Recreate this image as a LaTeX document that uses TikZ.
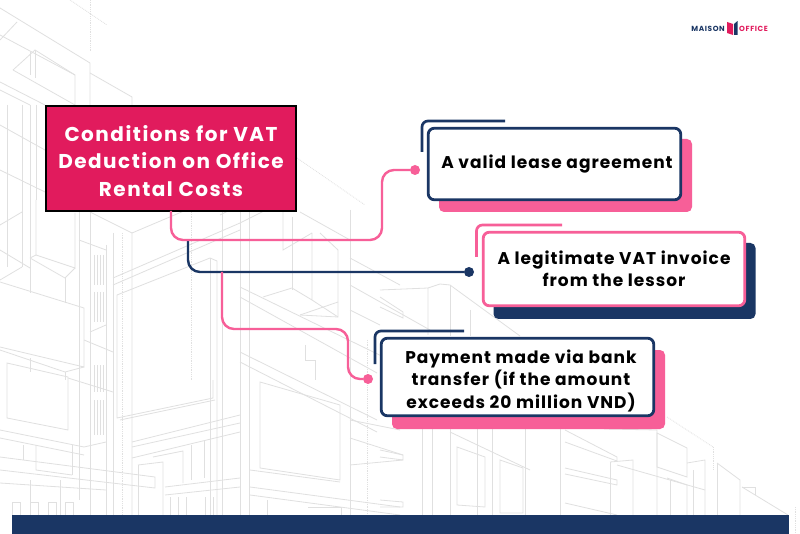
\documentclass[tikz,border=0pt]{standalone}
\usepackage{fontspec}
\setmainfont{Poppins}
\newfontfamily\titlefont[LetterSpace=7.5]{Poppins}
\newfontfamily\cardfont[LetterSpace=5.9]{Poppins}
\newfontfamily\logofont[LetterSpace=8]{Poppins}
\definecolor{navy}{HTML}{1A3664}
\definecolor{rose}{HTML}{F75F98}
\definecolor{crimson}{HTML}{E11B5D}
\definecolor{sketchgray}{HTML}{E0E0E0}

\begin{document}
\begin{tikzpicture}[x=1pt,y=-1pt]
    \tikzstyle{sketch}=[draw=sketchgray,line width=0.8pt]
    \tikzstyle{sketchdots}=[draw=sketchgray,line width=0.8pt,densely dotted]
    \tikzstyle{wire}=[line width=2.4pt,rounded corners=12pt]
    \tikzstyle{accent}=[line width=2.7pt,rounded corners=6pt]
    \tikzstyle{dot}=[circle,minimum size=10pt,inner sep=0pt,outer sep=0pt]
    \tikzstyle{card}=[rectangle,fill=white,line width=2.8pt,rounded corners=6pt,inner sep=0pt,outer sep=0pt,align=center,text=black,font=\cardfont\bfseries\fontsize{17}{22.3}\selectfont]
    \tikzstyle{backing}=[rectangle,rounded corners=5pt,inner sep=0pt,outer sep=0pt]
    \useasboundingbox (0,0) rectangle (800,534);
    \fill[white] (0,0) rectangle (800,534);

    % building, upper left
    \draw[sketch] (0,8) -- (90,63) -- (90,105);
    \draw[sketch] (0,40) -- (17,22);
    \draw[sketch] (0,35) -- (75,75) -- (75,105);
    \draw[sketch] (13,70) -- (35,50) -- (75,75);
    \draw[sketch] (35,50) -- (35,78);
    \draw[sketch] (30,52) -- (30,75);
    \draw[sketch] (13,70) -- (75,105);
    \draw[sketch] (0,82) -- (45,105);
    \draw[sketch] (0,90) -- (30,105);
    \draw[sketch] (90,73) -- (132,97) -- (132,105);
    \draw[sketchdots] (70,0) -- (107,25);
    \draw[sketchdots] (90,0) -- (90,52);
    \draw[sketchdots] (297,158) -- (365,205);

    % building, left side
    \foreach \x in {7,22,30,36}
        \draw[sketch] (\x,105) -- (\x,200);
    \draw[sketch] (0,125) -- (45,150);
    \draw[sketch] (0,170) -- (45,192);
    \draw[sketch] (7,200) -- (7,267);
    \draw[sketch] (22,200) -- (22,267);
    \draw[sketch] (0,280) -- (22,267);
    \draw[sketch] (0,225) -- (22,212);
    \draw[sketch] (36,200) -- (36,255) -- (75,268) -- (75,213);
    \draw[sketch] (30,200) -- (30,293);
    \draw[sketch] (30,258) -- (36,255);
    \draw[sketch] (30,258) -- (65,278) -- (75,268);
    \draw[sketch] (65,278) -- (65,303);
    \draw[sketch] (0,250) -- (30,268);
    \draw[sketch] (0,282) -- (84,308) -- (84,367) -- (0,347);
    \draw[sketch] (0,350) -- (65,372) -- (84,367);
    \draw[sketch] (7,363) -- (68,377) -- (68,430) -- (7,418) -- cycle;
    \draw[sketch] (30,358) -- (30,372);
    \draw[sketch] (65,372) -- (65,380);
    \draw[sketch] (79,212) -- (79,500);
    \draw[sketch] (90,212) -- (90,534);
    \draw[sketch] (106,245) -- (106,534);
    \draw[sketch] (113,233) -- (113,534);
    \draw[sketch] (90,212) -- (132,233) -- (132,515);
    \draw[sketch] (79,240) -- (106,250);
    \draw[sketch] (90,332) -- (106,325);
    \draw[sketch] (84,340) -- (113,352);
    \draw[sketch] (68,378) -- (113,392);
    \foreach \x in {94,97,100,103}
        \foreach \ya/\yb in {255/285,292/322,365/392,400/435}
            \draw[sketch] (\x,\ya) -- (\x,\yb);
    \draw[sketch] (0,430) -- (84,447) -- (106,442);
    \draw[sketch] (0,438) -- (84,455);
    \draw[sketch] (23,445) -- (23,460);
    \draw[sketch] (36,445) -- (36,470) -- (72,475);
    \draw[sketch] (72,445) -- (72,475);
    \draw[sketch] (0,457) -- (155,477) -- (155,488) -- (0,470);
    \draw[sketch] (0,483) -- (106,490);
    \draw[sketch] (60,480) -- (60,515);
    \draw[sketch] (30,480) -- (30,515);
    \foreach \x in {12,30,48,65}
        \draw[sketch] (\x,515) -- (\x,502) -- ({\x+8},502) -- ({\x+8},515);
    \draw[sketchdots] (122,233) -- (122,515);
    \draw[sketchdots] (191,212) -- (191,380);

    % building, centre
    \draw[sketch] (132,233) -- (250,183);
    \draw[sketch] (113,278) -- (240,223);
    \draw[sketch] (113,285) -- (240,230);
    \draw[sketch] (117,295) -- (210,258) -- (217,261) -- (217,515);
    \draw[sketch] (210,258) -- (210,515);
    \draw[sketch] (117,295) -- (117,418) -- (213,398) -- (213,380);
    \draw[sketch] (120,420) -- (215,400);
    \draw[sketch] (240,212) -- (240,515);
    \draw[sketch] (249,212) -- (249,515);
    \draw[sketch] (222,212) -- (222,515);
    \draw[sketch] (132,442) -- (240,415);
    \draw[sketch] (132,447) -- (240,423);
    \draw[sketch] (132,458) -- (240,432);
    \draw[sketch] (138,465) -- (163,462) -- (163,515);
    \draw[sketch] (138,465) -- (138,515);
    \draw[sketch] (153,457) -- (183,451) -- (183,483);
    \draw[sketch] (191,445) -- (191,480);
    \draw[sketch] (204,440) -- (204,478);
    \draw[sketch] (165,487) -- (240,478);
    \draw[sketch] (165,495) -- (240,487);
    \foreach \x in {170,178,186,205,213}
        \draw[sketch] (\x,497) -- (\x,515);

    % building, middle blocks
    \draw[sketch] (240,205) -- (220,215);
    \draw[sketch] (240,223) -- (292,197);
    \draw[sketch] (283,212) -- (283,250) -- (312,233);
    \draw[sketch] (292,217) -- (292,290);
    \draw[sketch] (263,297) -- (292,288) -- (312,300) -- (312,233);
    \draw[sketch] (300,315) -- (338,302);
    \draw[sketch] (338,250) -- (338,317) -- (300,315);
    \draw[sketch] (320,233) -- (338,250);
    \draw[sketch] (312,300) -- (338,317);
    \draw[sketch] (240,287) -- (400,365);
    \draw[sketch] (240,297) -- (377,373);
    \draw[sketch] (240,352) -- (377,420);
    \draw[sketch] (240,362) -- (377,432);
    \draw[sketch] (260,382) -- (340,405) -- (340,480) -- (260,468) -- cycle;
    \draw[sketch] (250,470) -- (340,482);
    \draw[sketch] (250,487) -- (400,507);
    \draw[sketch] (250,495) -- (400,515);
    \draw[sketch] (300,212) -- (350,240);
    \draw[sketch] (350,210) -- (350,515);
    \draw[sketch] (305,345) -- (305,360) -- (315,360) -- (315,380);
    \draw[sketch] (350,310) -- (380,325);
    \draw[sketch] (350,258) -- (400,285);
    \draw[sketch] (350,285) -- (430,330);
    \draw[sketch] (350,420) -- (400,430);
    \draw[sketch] (350,438) -- (403,455);
    \draw[sketch] (350,465) -- (403,460);
    \draw[sketch] (267,500) -- (267,515);
    \draw[sketch] (308,507) -- (341,507) -- (341,515);
    \draw[sketchdots] (367,340) -- (367,515);

    % building, lower right
    \draw[sketch] (380,297) -- (403,312) -- (403,318) -- (380,307);
    \draw[sketch] (380,290) -- (428,288) -- (428,335);
    \draw[sketch] (428,288) -- (440,284) -- (450,285) -- (520,336);
    \draw[sketch] (450,285) -- (450,336);
    \draw[sketch] (470,310) -- (470,336);
    \draw[sketch] (380,450) -- (403,455) -- (403,460) -- (380,457);
    \draw[sketch] (380,500) -- (403,502) -- (403,507) -- (380,507);
    \foreach \x in {422,432,450,477,492,525,560}
        \draw[sketch] (\x,429) -- (\x,515);
    \draw[sketch] (457,447) -- (485,457) -- (485,507) -- (457,505) -- cycle;
    \draw[sketch] (500,460) -- (523,468) -- (523,513) -- (500,513) -- cycle;
    \draw[sketch] (450,432) -- (530,470);
    \draw[sketch] (565,430) -- (617,457) -- (617,461) -- (565,442);
    \draw[sketch] (565,468) -- (617,480) -- (617,485) -- (565,474);
    \draw[sketch] (565,503) -- (617,515);
    \draw[sketch] (610,462) -- (633,460) -- (633,515);
    \draw[sketch] (610,462) -- (610,515);
    \draw[sketch] (604,429) -- (657,430) -- (657,515);
    \draw[sketch] (657,433) -- (687,448) -- (687,477) -- (657,467) -- cycle;
    \draw[sketch] (617,465) -- (705,490);
    \draw[sketch] (687,463) -- (705,460) -- (705,515);
    \draw[sketch] (693,470) -- (693,515);
    \draw[sketch] (670,480) -- (670,515) ;
    \draw[sketch] (667,478) -- (687,485) -- (687,515);
    \draw[sketch] (717,463) -- (740,480) -- (740,515);
    \draw[sketch] (717,463) -- (717,515);
    \draw[sketch] (742,487) -- (788,515);
    \draw[sketch] (742,487) -- (755,487) -- (755,495);
    \draw[sketchdots] (667,417) -- (713,447);
    \draw[sketchdots] (713,447) -- (713,470);
    \draw[sketchdots] (795,507) -- (795,534);

    % bottom band
    \fill[navy] (12,515) rectangle (789,534);

    % logo
    \node[inner sep=0pt,anchor=east,text=navy,font=\logofont\bfseries\fontsize{7.4}{8}\selectfont] (logo-left) at (725,29) {MAISON};
    \node[inner sep=0pt,anchor=west,text=crimson,font=\logofont\bfseries\fontsize{7.4}{8}\selectfont] (logo-right) at (739,29) {OFFICE};
    \fill[crimson] (727,22) -- (733,24) -- (733,35) -- (727,33) -- cycle;
    \fill[navy] (734,24) -- (737.5,21) -- (737.5,35) -- (734,35) -- cycle;

    % title
    \node[rectangle,draw=black,fill=crimson,line width=1.8pt,minimum width=250pt,minimum height=105pt,inner sep=0pt,outer sep=0pt,align=center,text=white,font=\titlefont\bfseries\fontsize{20}{27.5}\selectfont] (conditions) at (171,158.5) {\rule{0pt}{21pt}Conditions for VAT\\Deduction on Office\\Rental Costs};

    % cards
    \node[backing,fill=rose,minimum width=253pt,minimum height=73pt] (lease-back) at (565.5,175.5) {};
    \node[card,draw=navy,minimum width=252.5pt,minimum height=71.5pt] (lease) at (554.5,164) {\hspace*{5pt}A valid lease agreement};
    \node[backing,fill=navy,minimum width=262pt,minimum height=76pt] (invoice-back) at (624.5,281) {};
    \node[card,draw=rose,minimum width=261.5pt,minimum height=73.5pt] (invoice) at (614,269) {A legitimate VAT invoice\\from the lessor};
    \node[backing,fill=rose,minimum width=273pt,minimum height=79pt] (payment-back) at (528.5,389.5) {};
    \node[card,draw=navy,minimum width=272.5pt,minimum height=77.5pt] (payment) at (517.5,377) {\rule{0pt}{21pt}\hspace*{7pt}Payment made via bank\\\hspace*{7pt}transfer (if the amount\\\hspace*{7pt}exceeds 20 million VND)};

    % corner marks
    \draw[accent,navy] (422,152) |- (505,121);
    \draw[accent,rose] (476.5,257) |- (562,225);
    \draw[accent,navy] (375,364) |- (464,331);

    % connectors
    \node[dot,fill=rose] (lease-dot) at (415,170) {};
    \node[dot,fill=navy] (invoice-dot) at (469,272) {};
    \node[dot,fill=rose] (payment-dot) at (368,379) {};
    \coordinate (lease-turn) at (382,240);
    \coordinate (invoice-start) at (188,240);
    \coordinate (payment-start) at (222,272);
    \coordinate (payment-turn) at (348,329);

    \draw[wire,navy] (invoice-start) |- (invoice-dot);
    \draw[wire,rose] (conditions.south) |- (lease-turn) |- (lease-dot);
    \draw[wire,rose] (payment-start) |- (payment-turn) |- (payment-dot);
\end{tikzpicture}
\end{document}
